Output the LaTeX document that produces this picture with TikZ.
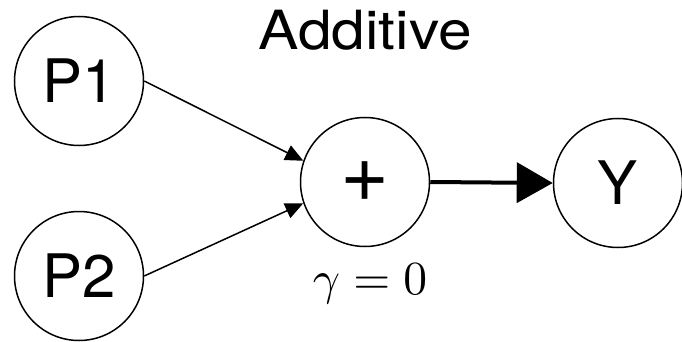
\documentclass[tikz,border=0pt]{standalone}
\usepackage[no-math]{fontspec}
\setmainfont{TeX Gyre Heros}
\usetikzlibrary{arrows.meta}
\begin{document}
\begin{tikzpicture}[x=1pt,y=-1pt,
  circ/.style={draw,circle,line width=1.5pt,minimum size=129pt,inner sep=0pt,font=\fontsize{60}{60}\selectfont},
  thin/.style={line width=1.5pt,-{Triangle[length=18pt,width=16pt]}},
  thick/.style={line width=4pt,-{Triangle[length=36pt,width=40pt]}}]
\useasboundingbox (0,0) rectangle (682,342);
\node[circ] (p1) at (79,81) {P1};
\node[circ] (p2) at (79,276) {P2};
\node[circ,font=\fontsize{84}{84}\selectfont] (plus) at (365,182) {+};
\node[circ] (y) at (618,183) {Y};
\node[font=\fontsize{54}{54}\selectfont,xscale=1.12,transform shape] (title) at (365,30) {Additive};
\node[font=\fontsize{10}{10}\selectfont,inner sep=0pt,scale=4.75,transform shape] (gamma) at (370,284) {$\gamma = 0$};
\draw[thin] (p1.east) -- (plus.161);
\draw[thin] (p2.east) -- (plus.199);
\draw[thick] (plus.east) -- (y.west);
\end{tikzpicture}
\end{document}
